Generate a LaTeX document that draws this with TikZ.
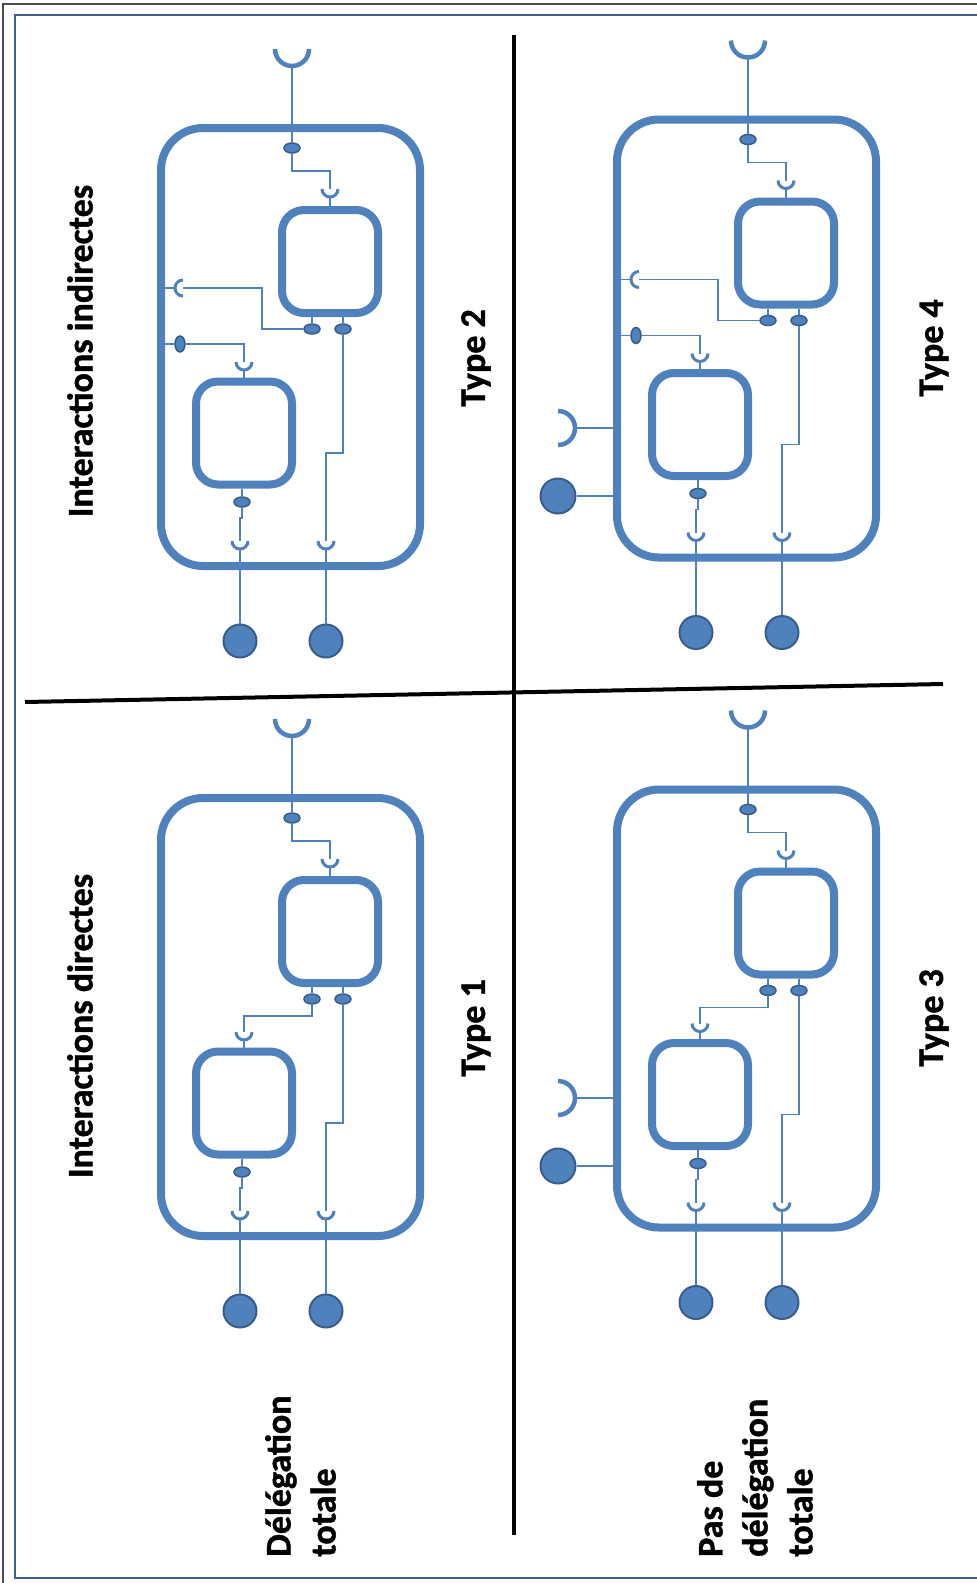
\documentclass[tikz,border=0pt]{standalone}
\usepackage{fontspec}
\setmainfont{Carlito}[BoldFeatures={FakeBold=1.2}]
\usetikzlibrary{shapes.geometric}

\definecolor{compblue}{RGB}{79,129,189}
\definecolor{portblue}{RGB}{56,93,138}
\definecolor{frameblue}{RGB}{62,96,146}

\begin{document}
\begin{tikzpicture}[x=1pt,y=-1pt,
  wire/.style={compblue,line width=1.3pt},
  cupline/.style={compblue,line width=3pt},
  socketline/.style={compblue,line width=4.5pt},
  cellbox/.style={draw=compblue,line width=8pt,rounded corners=42pt,minimum width=259pt,minimum height=438pt,inner sep=0pt},
  partbox/.style={draw=compblue,line width=8pt,rounded corners=22pt,minimum width=96pt,minimum height=103pt,inner sep=0pt},
  portdot/.style={ellipse,draw=portblue,fill=compblue,line width=1.5pt,minimum width=16pt,minimum height=10pt,inner sep=0pt},
  ballnode/.style={circle,draw=portblue,fill=compblue,line width=2pt,minimum size=33pt,inner sep=0pt},
  typetext/.style={font=\bfseries\fontsize{36}{45}\selectfont,inner sep=0pt},
  cell/.pic={
    % container and its two parts
    \node[cellbox] (box) at (290.5,347) {};
    \node[partbox] (a) at (244,433) {};
    \node[partbox] (b) at (330,261.5) {};
    % ports
    \node[portdot] (pt) at (292,148) {};
    \node[portdot] (pb1) at (312,329) {};
    \node[portdot] (pb2) at (343,329) {};
    \node[portdot] (pa) at (242,502) {};
    \node[ballnode] (in1) at (240,641) {};
    \node[ballnode] (in2) at (326,641) {};
    \coordinate (out) at (292,66);
    \coordinate (cb) at (330,189);
    \coordinate (ca) at (244,362);
    \coordinate (c1) at (240,541);
    \coordinate (c2) at (326,541);
    % sockets and cups
    \draw[socketline] (275,49) arc[start angle=180,end angle=0,radius=17];
    \draw[cupline] (cb) ++(-8,0) arc[start angle=180,end angle=0,radius=8];
    \draw[cupline] (ca) ++(-8,0) arc[start angle=180,end angle=0,radius=8];
    \draw[cupline] (c1) ++(-8,0) arc[start angle=180,end angle=0,radius=8];
    \draw[cupline] (c2) ++(-8,0) arc[start angle=180,end angle=0,radius=8];
    % wires
    \draw[wire] (out) -- (pt);
    \draw[wire] (pt) -- (292,171) -| (cb);
    \draw[wire] (cb) ++(0,8) -- (b);
    \draw[wire] (ca) ++(0,8) -- (a);
    \draw[wire] (b.south -| pb1) -- (pb1);
    \draw[wire] (b.south -| pb2) -- (pb2);
    \draw[wire] (a.south -| pa) -- (pa);
    \draw[wire] (pa) -- (242,518) -| (c1);
    \draw[wire] (pb2) -- (343,453) -| (c2);
    \draw[wire] (c1) ++(0,8) -- (in1);
    \draw[wire] (c2) ++(0,8) -- (in2);
  },
  indirect/.pic={
    \node[portdot,rotate=90] (pw) at (180,344) {};
    \coordinate (cw) at (183,288);
    \draw[cupline] (cw) ++(0,8) arc[start angle=90,end angle=270,radius=8];
    \draw[wire] (pb1) -| (262,288) -- (cw);
    \draw[wire] (box.west |- cw) -- ++(18,0);
    \draw[wire] (box.west |- pw) -- (pw);
    \draw[wire] (pw) -| (ca);
  },
  direct/.pic={
    \draw[wire] (pb1) -- (312,346) -| (ca);
  },
  shared/.pic={
    \node[ballnode,minimum size=35pt] (in3) at (102,504.5) {};
    \coordinate (ext) at (102,436.5);
    \draw[socketline] (102,419.5) arc[start angle=-90,end angle=90,radius=17];
    \draw[wire] (119,436.5) -- (box.west |- ext);
    \draw[wire] (in3) -- (box.west |- in3);
  }]
% Frame
\useasboundingbox (0,0) rectangle (977,1583);
\fill[white] (0,0) rectangle (977,1583);
\draw[gray!60!black,line width=1.5pt] (3,1583) -- (3,4) -- (977,4);
\draw[frameblue,line width=2.5pt] (977,15) -- (15,15) -- (15,1578) -- (977,1578);
% Dividers
\draw[line width=4pt] (514,35) -- (514,1535);
\draw[line width=4pt] (25,702) -- (943,684);
% Type 2
\pic (t2) at (0,0) {cell};
\pic (t2) at (0,0) {indirect};
% Type 1
\pic (t1) at (0,670) {cell};
\pic (t1) at (0,670) {direct};
% Type 4
\pic (t4) at (456,-8.5) {cell};
\pic (t4) at (456,-8.5) {indirect};
\pic (t4) at (456,-8.5) {shared};
% Type 3
\pic (t3) at (456,661.5) {cell};
\pic (t3) at (456,661.5) {direct};
\pic (t3) at (456,661.5) {shared};
% Labels
\node[typetext,rotate=90] (rowtop) at (80,351) {Interactions indirectes};
\node[typetext,rotate=90] (rowbot) at (80,1026) {Interactions directes};
\node[typetext,rotate=90] (t2name) at (476,358) {Type 2};
\node[typetext,rotate=90] (t1name) at (476,1028) {Type 1};
\node[typetext,rotate=90] (t4name) at (934,348) {Type 4};
\node[typetext,rotate=90] (t3name) at (934,1018) {Type 3};
\node[typetext,rotate=90,anchor=north west,align=left] (colleft) at (265,1557) {Délégation\\totale};
\node[typetext,rotate=90,anchor=north west,align=left] (colright) at (697,1557) {Pas de\\délégation\\totale};
\end{tikzpicture}
\end{document}
